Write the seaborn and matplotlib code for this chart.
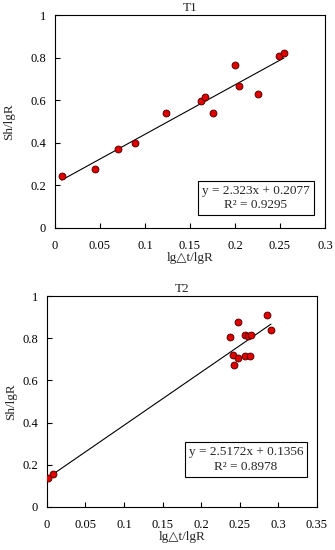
import numpy as np
import pandas as pd
import matplotlib
matplotlib.use("Agg")
import matplotlib.pyplot as plt
import seaborn as sns

# T1 data
t1_x = [0.0075, 0.044, 0.0705, 0.0895, 0.123, 0.162, 0.1665, 0.1755, 0.2005, 0.204, 0.2255, 0.2485, 0.2545]
t1_y = [0.242, 0.277, 0.373, 0.398, 0.539, 0.598, 0.614, 0.541, 0.768, 0.665, 0.629, 0.807, 0.820]
t1_fit = (2.323, 0.2077)
t1_text = "y = 2.323x + 0.2077\nR² = 0.9295"

# T2 data
t2_x = [0.0015, 0.0085, 0.237, 0.248, 0.2415, 0.243, 0.248, 0.2565, 0.261, 0.2565, 0.2635, 0.265, 0.2855, 0.2905]
t2_y = [0.137, 0.157, 0.805, 0.877, 0.720, 0.674, 0.704, 0.813, 0.809, 0.718, 0.718, 0.814, 0.912, 0.839]
t2_fit = (2.5172, 0.1356)
t2_text = "y = 2.5172x + 0.1356\nR² = 0.8978"

sns.set_style("ticks")
plt.rcParams['font.family'] = ['Liberation Serif', 'DejaVu Serif']

fig = plt.figure(figsize=(3.35, 5.5), dpi=100)
ax1 = fig.add_axes([0.164, 0.5855, 0.806, 0.387])
ax2 = fig.add_axes([0.140, 0.0782, 0.806, 0.3836])


def draw(ax, xs, ys, fit, txt, title, xmax, box_xy, ylab_x):
    df = pd.DataFrame({"x": xs, "y": ys})
    xl = np.array([min(xs), max(xs)])
    ax.plot(xl, fit[0] * xl + fit[1], color="black", lw=0.8, zorder=1)
    sns.scatterplot(data=df, x="x", y="y", ax=ax, color="#e00000", edgecolor="#5a0000",
                    linewidth=0.7, s=24, zorder=3)
    ticks = np.arange(0, xmax + 0.001, 0.05)
    ax.set_xlim(0, xmax)
    ax.set_ylim(0, 1)
    ax.set_xticks(ticks)
    ax.set_xticklabels([f"{v:g}" for v in ticks])
    ax.set_yticks([0, 0.2, 0.4, 0.6, 0.8, 1])
    ax.set_yticklabels(["0", "0.2", "0.4", "0.6", "0.8", "1"])
    ax.tick_params(direction="in", length=3.5, width=0.8, labelsize=9, colors="black")
    ax.tick_params(axis="x", pad=9)
    ax.tick_params(axis="y", pad=6.5)
    for s in ax.spines.values():
        s.set_linewidth(0.8)
        s.set_color("black")
    ax.set_xlabel("lg△t/lgR", fontsize=9.5, labelpad=0)
    ax.set_ylabel("Sh/lgR", fontsize=9.5)
    ax.yaxis.set_label_coords(ylab_x, 0.5)
    ax.set_title(title, fontsize=9.5, pad=3)
    ax.text(box_xy[0], box_xy[1], txt, transform=ax.transAxes, ha="center", va="center",
            fontsize=9.5, linespacing=1.25,
            bbox=dict(boxstyle="square,pad=0.3", fc="white", ec="black", lw=0.8))


draw(ax1, t1_x, t1_y, t1_fit, t1_text, "T1", 0.3, (0.744, 0.141), -0.146)
draw(ax2, t2_x, t2_y, t2_fit, t2_text, "T2", 0.35, (0.737, 0.225), -0.109)

fig.savefig("out.png", dpi=100)
